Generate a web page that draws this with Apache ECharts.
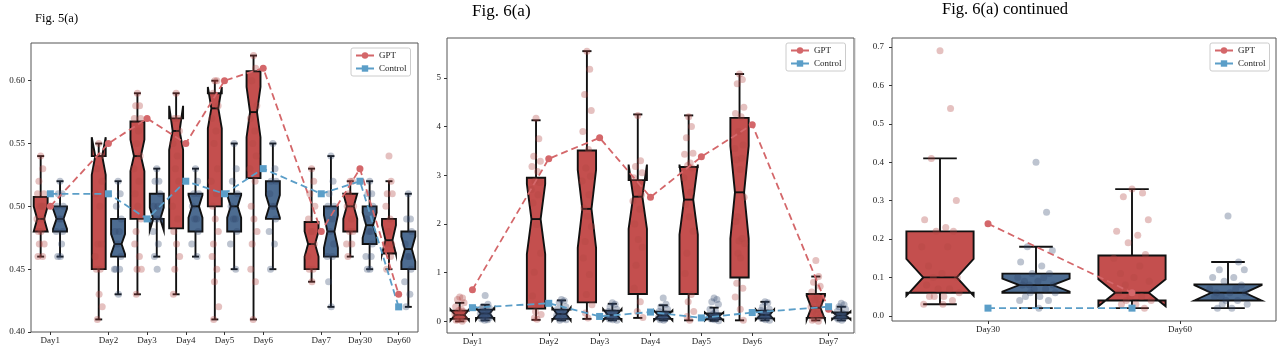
<!DOCTYPE html>
<html><head><meta charset="utf-8">
<script src="https://cdn.jsdelivr.net/npm/echarts@6/dist/echarts.min.js"></script>
<style>html,body{margin:0;padding:0;background:#fff}#c{width:1283px;height:360px}</style>
</head><body><div id="c"></div>
<script>
// ---------------- DATA ----------------
// Fig. 5(a)
const p1Days = ['Day1','Day2','Day3','Day4','Day5','Day6','Day7','Day30','Day60'];
const p1YTicks = [0.40, 0.45, 0.50, 0.55, 0.60];
// box stats: [whiskerLow, Q1, median, Q3, whiskerHigh, notchLow, notchHigh]
const p1GptStats = [
  [0.46,0.48,0.49,0.5075,0.54,0.480,0.500],
  [0.41,0.45,0.54,0.54,0.55,0.525,0.555],
  [0.43,0.49,0.54,0.5675,0.59,0.528,0.553],
  [0.43,0.4825,0.56,0.57,0.59,0.545,0.580],
  [0.41,0.50,0.578,0.59,0.60,0.562,0.595],
  [0.41,0.5225,0.575,0.6075,0.62,0.555,0.595],
  [0.44,0.45,0.47,0.4875,0.53,0.460,0.480],
  [0.46,0.48,0.50,0.51,0.52,0.490,0.510],
  [0.45,0.4625,0.473,0.49,0.52,0.462,0.485]
];
const p1CtrlStats = [
  [0.46,0.48,0.49,0.50,0.52,0.482,0.498],
  [0.43,0.46,0.47,0.49,0.52,0.462,0.478],
  [0.46,0.49,0.49,0.51,0.53,0.481,0.499],
  [0.46,0.48,0.50,0.51,0.53,0.491,0.509],
  [0.45,0.48,0.50,0.51,0.55,0.491,0.509],
  [0.45,0.49,0.50,0.52,0.55,0.491,0.509],
  [0.42,0.46,0.48,0.50,0.54,0.467,0.493],
  [0.45,0.47,0.485,0.50,0.52,0.475,0.495],
  [0.42,0.45,0.466,0.48,0.51,0.456,0.476]
];
const p1GptMean  = [0.50,0.55,0.57,0.55,0.60,0.61,0.48,0.53,0.43];
const p1CtrlMean = [0.51,0.51,0.49,0.52,0.51,0.53,0.51,0.52,0.42];
const p1GptPts = [
  [0.54,0.53,0.52,0.51,0.51,0.50,0.50,0.50,0.49,0.49,0.48,0.48,0.47,0.47,0.46,0.46],
  [0.55,0.54,0.53,0.52,0.51,0.50,0.47,0.47,0.46,0.45,0.45,0.43,0.42,0.41],
  [0.59,0.58,0.58,0.57,0.57,0.56,0.55,0.54,0.53,0.52,0.51,0.50,0.49,0.48,0.47,0.46,0.45,0.45,0.43],
  [0.59,0.57,0.57,0.56,0.55,0.54,0.53,0.52,0.50,0.49,0.48,0.47,0.46,0.45,0.43],
  [0.60,0.60,0.59,0.58,0.57,0.56,0.55,0.53,0.52,0.51,0.50,0.49,0.48,0.47,0.46,0.45,0.44,0.42,0.41],
  [0.62,0.61,0.60,0.58,0.57,0.56,0.55,0.54,0.53,0.52,0.50,0.49,0.48,0.47,0.45,0.44,0.41],
  [0.53,0.52,0.51,0.50,0.49,0.48,0.48,0.47,0.46,0.45,0.45,0.44],
  [0.52,0.52,0.51,0.50,0.50,0.49,0.48,0.48,0.47,0.47,0.46],
  [0.54,0.52,0.51,0.51,0.50,0.49,0.48,0.47,0.47,0.46,0.45]
];
const p1CtrlPts = [
  [0.52,0.51,0.51,0.50,0.50,0.49,0.49,0.48,0.48,0.47,0.46,0.46],
  [0.52,0.51,0.50,0.49,0.48,0.48,0.47,0.46,0.45,0.45,0.45,0.43],
  [0.53,0.52,0.52,0.51,0.50,0.50,0.49,0.49,0.48,0.47,0.46,0.45],
  [0.53,0.52,0.51,0.51,0.50,0.49,0.49,0.48,0.47,0.46],
  [0.55,0.53,0.52,0.51,0.50,0.49,0.49,0.48,0.47,0.45],
  [0.55,0.53,0.52,0.52,0.51,0.50,0.50,0.49,0.48,0.47,0.45],
  [0.54,0.52,0.51,0.50,0.50,0.49,0.48,0.47,0.46,0.46,0.44,0.42],
  [0.52,0.51,0.51,0.50,0.49,0.48,0.48,0.47,0.46,0.46,0.45,0.45],
  [0.51,0.49,0.49,0.48,0.47,0.46,0.46,0.45,0.44,0.43,0.42]
];

// Fig. 6(a)
const p2Days = ['Day1','Day2','Day3','Day4','Day5','Day6','Day7'];
const p2YTicks = [0,1,2,3,4,5];
const p2GptStats = [
  [0.00,0.05,0.13,0.22,0.38,0.02,0.24],
  [0.03,0.26,2.10,2.95,4.13,1.38,2.82],
  [0.05,0.39,2.31,3.51,5.55,1.51,3.11],
  [0.07,0.56,2.56,2.90,4.25,1.90,3.22],
  [0.02,0.56,2.50,3.17,4.23,1.78,3.22],
  [0.02,0.90,2.65,4.18,5.08,1.70,3.60],
  [0.02,0.07,0.28,0.56,0.92,0.03,0.53]
];
const p2CtrlStats = [
  [0.02,0.07,0.16,0.24,0.34,0.03,0.28],
  [0.02,0.05,0.15,0.24,0.43,0.02,0.28],
  [0.02,0.05,0.13,0.22,0.36,0.02,0.25],
  [0.02,0.05,0.12,0.20,0.33,0.02,0.22],
  [0.01,0.04,0.10,0.16,0.28,0.02,0.18],
  [0.02,0.06,0.13,0.22,0.40,0.03,0.24],
  [0.02,0.06,0.12,0.18,0.30,0.04,0.20]
];
const p2GptMean  = [0.65,3.34,3.77,2.55,3.38,4.04,0.25];
const p2CtrlMean = [0.28,0.37,0.10,0.19,0.07,0.18,0.30];
const p2GptPts = [
  [0.50,0.48,0.45,0.38,0.30,0.25,0.22,0.20,0.15,0.12,0.10,0.08,0.05,0.03,0.02,0.00],
  [4.17,3.75,3.39,3.29,3.18,3.08,2.88,2.85,2.71,2.60,2.43,1.99,1.40,1.01,0.52,0.34,0.20,0.14,0.07,0.04],
  [5.55,5.18,4.66,4.33,3.90,3.53,3.15,2.98,2.88,2.60,2.33,2.16,1.95,1.64,1.30,0.96,0.55,0.34,0.17,0.07],
  [4.23,3.30,3.18,3.05,2.95,2.85,2.72,2.60,2.47,2.30,2.00,1.68,1.52,1.15,0.68,0.40,0.20,0.08],
  [4.20,4.00,3.77,3.45,3.43,3.25,3.20,3.15,2.95,2.65,2.40,2.15,1.85,1.40,0.98,0.55,0.40,0.20,0.10,0.02],
  [5.08,4.97,4.88,4.40,4.27,4.20,3.90,3.62,3.55,3.35,3.32,3.12,2.55,2.15,2.05,1.70,1.65,1.60,1.40,1.30,0.78,0.68,0.50,0.25,0.02],
  [1.25,0.92,0.80,0.72,0.60,0.50,0.45,0.35,0.30,0.25,0.20,0.15,0.10,0.05,0.02,0.00]
];
const p2CtrlPts = [
  [0.53,0.35,0.30,0.27,0.25,0.22,0.20,0.18,0.16,0.15,0.12,0.10,0.08,0.06,0.05,0.03,0.02],
  [0.45,0.42,0.38,0.30,0.25,0.22,0.18,0.15,0.12,0.10,0.08,0.05,0.03,0.02],
  [0.38,0.35,0.30,0.25,0.20,0.18,0.15,0.12,0.10,0.08,0.05,0.03,0.02],
  [0.48,0.35,0.30,0.25,0.20,0.16,0.12,0.10,0.08,0.05,0.03,0.02],
  [0.48,0.45,0.40,0.35,0.25,0.20,0.15,0.12,0.10,0.08,0.05,0.03,0.01],
  [0.40,0.38,0.30,0.25,0.22,0.18,0.15,0.12,0.10,0.08,0.06,0.03,0.02],
  [0.37,0.34,0.30,0.25,0.20,0.16,0.12,0.10,0.08,0.06,0.04,0.02]
];

// Fig. 6(a) continued
const p3Days = ['Day30','Day60'];
const p3YTicks = [0.0,0.1,0.2,0.3,0.4,0.5,0.6,0.7];
const p3GptStats = [
  [0.03,0.06,0.10,0.22,0.41,0.052,0.148],
  [0.02,0.04,0.06,0.157,0.33,0.025,0.095]
];
const p3CtrlStats = [
  [0.02,0.06,0.08,0.11,0.18,0.063,0.097],
  [0.02,0.04,0.06,0.082,0.14,0.040,0.080]
];
const p3GptMean  = [0.24,0.06];
const p3CtrlMean = [0.02,0.02];
const p3GptPts = [
  [0.69,0.54,0.41,0.30,0.25,0.23,0.22,0.22,0.18,0.18,0.13,0.11,0.10,0.10,0.08,0.07,0.07,0.06,0.05,0.05,0.05,0.04,0.03,0.03],
  [0.33,0.32,0.31,0.25,0.22,0.21,0.19,0.16,0.15,0.13,0.11,0.10,0.09,0.08,0.06,0.05,0.05,0.04,0.04,0.03,0.03,0.02]
];
const p3CtrlPts = [
  [0.40,0.27,0.18,0.17,0.14,0.13,0.11,0.11,0.10,0.10,0.09,0.09,0.08,0.08,0.08,0.07,0.07,0.06,0.06,0.05,0.05,0.04,0.04,0.02],
  [0.26,0.14,0.12,0.12,0.10,0.10,0.09,0.08,0.07,0.07,0.06,0.06,0.06,0.05,0.05,0.04,0.04,0.03,0.03,0.02,0.02]
];

// ---------------- LAYOUT ----------------
const p1Pos = [0,1.5,2.5,3.5,4.5,5.5,7,8,9];
const p2Pos = [0,1.5,2.5,3.5,4.5,5.5,7];
const p3Pos = [0,1];
const p3MeanPos = [0,0.75];
const JIT = [0.0,0.55,-0.45,0.85,-0.8,0.3,-0.2,0.7,-0.95,0.4,-0.6,0.1,0.9,-0.35,-0.7,0.5,-0.1,1.0,-0.3,0.2,-0.55,0.65,-0.85,0.15,0.75];

const FONT = 'Liberation Serif';
const GPT_FILL = '#c44f4e', CTRL_FILL = '#4d6c91';
const GPT_LINE = '#d4676a', CTRL_LINE = '#5b9ec8';
const GPT_PT = 'rgba(178,70,68,0.42)', CTRL_PT = 'rgba(50,72,110,0.40)';

function boxRender(fill, width) {
  return function (params, api) {
    const x = api.value(0);
    const wLo = api.value(1), q1 = api.value(2), med = api.value(3), q3 = api.value(4),
          wHi = api.value(5), nLo = api.value(6), nHi = api.value(7);
    const P = (dx, y) => api.coord([x + dx, y]);
    const hw = width / 2, nw = width / 4, cw = width / 4;
    const pts = [P(-hw,q1),P(hw,q1),P(hw,nLo),P(nw,med),P(hw,nHi),P(hw,q3),P(-hw,q3),P(-hw,nHi),P(-nw,med),P(-hw,nLo)];
    const st = {stroke:'#111', lineWidth:1.9};
    const ln = (a, b) => ({type:'line', shape:{x1:a[0],y1:a[1],x2:b[0],y2:b[1]}, style:st});
    return {type:'group', children:[
      ln(P(0,q1), P(0,wLo)),
      ln(P(0,q3), P(0,wHi)),
      ln(P(-cw,wLo), P(cw,wLo)),
      ln(P(-cw,wHi), P(cw,wHi)),
      {type:'polygon', shape:{points:pts}, style:{fill:fill, stroke:'#111', lineWidth:1.9, lineJoin:'miter'}},
      ln(P(-nw,med), P(nw,med))
    ]};
  };
}

function boxSeries(gi, pos, stats, off, fill, width) {
  return {
    type:'custom', xAxisIndex:gi, yAxisIndex:gi, z:3,
    renderItem: boxRender(fill, width),
    encode:{x:0, y:[1,2,3,4,5,6,7]},
    data: stats.map((s, i) => [pos[i] + off].concat(s)),
    silent:true
  };
}
function ptSeries(gi, pos, pts, off, color, spread) {
  const data = [];
  pts.forEach((arr, i) => arr.forEach((v, j) => data.push([pos[i] + off + JIT[j % JIT.length] * spread, v])));
  return {type:'scatter', xAxisIndex:gi, yAxisIndex:gi, z:5, symbolSize:7, data,
          itemStyle:{color:color}, silent:true};
}
function meanSeries(gi, name, pos, vals, color, symbol, size) {
  return {type:'line', name, xAxisIndex:gi, yAxisIndex:gi, z:6, symbol, symbolSize:size,
          data: vals.map((v, i) => [pos[i], v]),
          lineStyle:{color, width:1.8, type:[7,4]}, itemStyle:{color}, silent:true};
}

function xAxisFor(gi, pos, days, min, max) {
  const lab = {};
  pos.forEach((p, i) => lab[p.toFixed(3)] = days[i]);
  return {type:'value', gridIndex:gi, min, max,
    axisLine:{show:false, onZero:false}, splitLine:{show:false},
    axisTick:{show:true, customValues:pos, length:3, lineStyle:{color:'#333'}},
    axisLabel:{customValues:pos, formatter:v => lab[Number(v).toFixed(3)] || '',
      fontFamily:FONT, fontSize:9, color:'#222', margin:4}};
}
function yAxisFor(gi, ticks, min, max, dec, margin) {
  return {type:'value', gridIndex:gi, min, max,
    axisLine:{show:false, onZero:false}, splitLine:{show:false},
    axisTick:{show:true, customValues:ticks, length:3, lineStyle:{color:'#333'}},
    axisLabel:{customValues:ticks, formatter:v => Number(v).toFixed(dec),
      fontFamily:FONT, fontSize:9, color:'#222', margin:margin}};
}
function legendFor(left, top) {
  return {orient:'vertical', left, top, data:['GPT','Control'],
    padding:[3,4,3,4], itemGap:4, itemWidth:18, itemHeight:8,
    textStyle:{fontFamily:FONT, fontSize:9, color:'#222'},
    borderColor:'#ccc', borderWidth:1, borderRadius:2, backgroundColor:'#fff', selectedMode:false};
}

const chart = echarts.init(document.getElementById('c'), null, {renderer:'canvas'});
const titleStyle = s => ({fontFamily:FONT, fontSize:s, fontWeight:'normal', color:'#000'});
chart.setOption({
  animation:false,
  backgroundColor:'#fff',
  title:[
    {text:'Fig. 5(a)', left:35, top:12, padding:0, textStyle:titleStyle(12.5)},
    {text:'Fig. 6(a)', left:472, top:3, padding:0, textStyle:titleStyle(17)},
    {text:'Fig. 6(a) continued', left:942, top:1, padding:0, textStyle:titleStyle(16.5)}
  ],
  legend:[legendFor(351,48), legendFor(786,43), legendFor(1210,43)],
  grid:[
    {left:31, top:43, width:387, height:289, show:true, borderColor:'#555', borderWidth:1},
    {left:447, top:38, width:407, height:295, show:true, borderColor:'#555', borderWidth:1},
    {left:892, top:38, width:384, height:283, show:true, borderColor:'#555', borderWidth:1}
  ],
  xAxis:[
    xAxisFor(0, p1Pos, p1Days, -0.5, 9.5),
    xAxisFor(1, p2Pos, p2Days, -0.5, 7.5),
    xAxisFor(2, p3Pos, p3Days, -0.5, 1.5)
  ],
  yAxis:[
    yAxisFor(0, p1YTicks, 0.40, 0.63, 2, 6),
    yAxisFor(1, p2YTicks, -0.24, 5.82, 0, 6),
    yAxisFor(2, p3YTicks, -0.0135, 0.7235, 1, 8)
  ],
  graphic:[{type:'line', shape:{x1:855.5,y1:38,x2:855.5,y2:334}, style:{stroke:'#e4e4e4', lineWidth:1}}],
  series:[
    boxSeries(0, p1Pos, p1GptStats, -0.25, GPT_FILL, 0.36),
    boxSeries(0, p1Pos, p1CtrlStats, 0.25, CTRL_FILL, 0.36),
    ptSeries(0, p1Pos, p1GptPts, -0.25, GPT_PT, 0.1),
    ptSeries(0, p1Pos, p1CtrlPts, 0.25, CTRL_PT, 0.1),
    meanSeries(0, 'GPT', p1Pos, p1GptMean, GPT_LINE, 'circle', 7),
    meanSeries(0, 'Control', p1Pos, p1CtrlMean, CTRL_LINE, 'rect', 7),

    boxSeries(1, p2Pos, p2GptStats, -0.25, GPT_FILL, 0.36),
    boxSeries(1, p2Pos, p2CtrlStats, 0.25, CTRL_FILL, 0.36),
    ptSeries(1, p2Pos, p2GptPts, -0.25, GPT_PT, 0.1),
    ptSeries(1, p2Pos, p2CtrlPts, 0.25, CTRL_PT, 0.1),
    meanSeries(1, 'GPT', p2Pos, p2GptMean, GPT_LINE, 'circle', 7),
    meanSeries(1, 'Control', p2Pos, p2CtrlMean, CTRL_LINE, 'rect', 7),

    boxSeries(2, p3Pos, p3GptStats, -0.25, GPT_FILL, 0.35),
    boxSeries(2, p3Pos, p3CtrlStats, 0.25, CTRL_FILL, 0.35),
    ptSeries(2, p3Pos, p3GptPts, -0.25, GPT_PT, 0.1),
    ptSeries(2, p3Pos, p3CtrlPts, 0.25, CTRL_PT, 0.1),
    meanSeries(2, 'GPT', p3MeanPos, p3GptMean, GPT_LINE, 'circle', 7),
    meanSeries(2, 'Control', p3MeanPos, p3CtrlMean, CTRL_LINE, 'rect', 7)
  ]
});
</script></body></html>
